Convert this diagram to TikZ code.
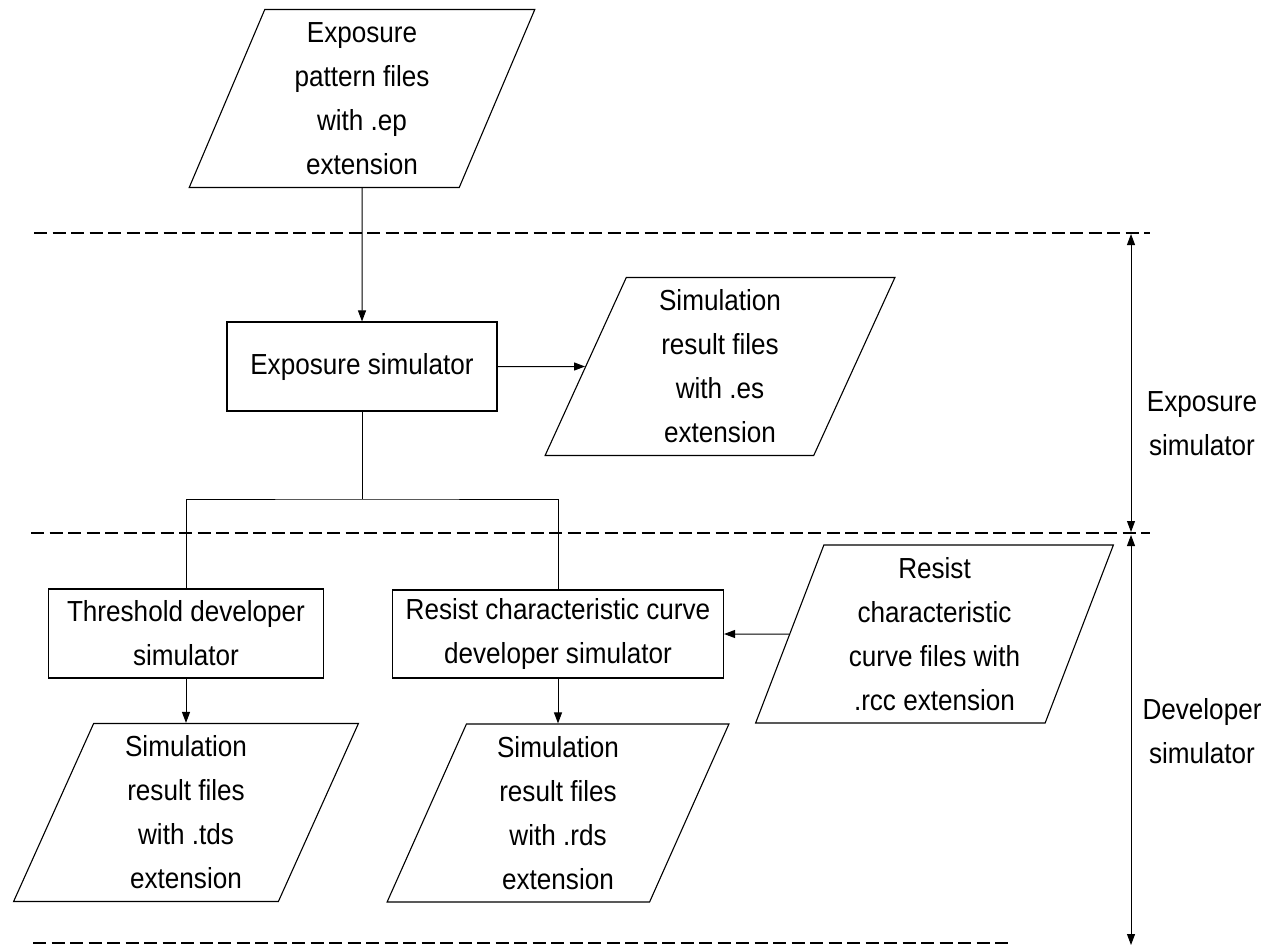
\documentclass[tikz,border=0pt]{standalone}
\usepackage{fontspec}
\setmainfont{Liberation Sans}[FakeStretch=0.9]
\usetikzlibrary{arrows.meta,shapes.geometric}
\begin{document}
\begin{tikzpicture}[x=1pt,y=-1pt,
  txt/.style={font=\fontsize{29}{44}\selectfont, align=center, inner sep=0pt},
  procbox/.style={txt, draw, rectangle, line width=1.1pt},
  filebox/.style={txt, draw, trapezium, trapezium left angle=71,
    trapezium right angle=109, trapezium stretches=true,
    minimum height=178pt, line width=1.1pt},
  link/.style={line width=1pt},
  arr/.style={link, -{Triangle[length=11pt,width=8pt]}},
  span/.style={link, {Triangle[length=11pt,width=8pt]}-{Triangle[length=11pt,width=8pt]}},
  sep/.style={line width=2pt, dash pattern=on 13pt off 5.5pt}]
\useasboundingbox (0,0) rectangle (1276,948);

% input and exposure stage
\node[filebox, minimum width=346pt] (ep) at (362,98.5)
  {Exposure\\pattern files\\with .ep\\extension};
\node[procbox, minimum width=270pt, minimum height=89pt] (expsim) at (362,366.5)
  {Exposure simulator};
\node[filebox, minimum width=350pt] (es) at (720,366.5)
  {Simulation\\result files\\with .es\\extension};

% developer stage
\node[procbox, minimum width=275pt, minimum height=89pt] (thr) at (186,633.5)
  {Threshold developer\\simulator};
\node[procbox, minimum width=331pt, minimum height=88pt] (rcd) at (558,634)
  {Resist characteristic curve\\developer simulator};
\node[filebox, minimum width=359pt] (rcc) at (934.5,634)
  {Resist\\characteristic\\curve files with\\.rcc extension};
\node[filebox, minimum width=345pt] (tds) at (186,812.5)
  {Simulation\\result files\\with .tds\\extension};
\node[filebox, minimum width=342pt] (rds) at (558,813)
  {Simulation\\result files\\with .rds\\extension};

% stage separators
\coordinate (topL) at (34,233);  \coordinate (topR) at (1150,233);
\coordinate (midL) at (31,533);  \coordinate (midR) at (1150,533);
\coordinate (botL) at (33,943);  \coordinate (botR) at (1008,943);
\draw[sep] (topL) -- (topR);
\draw[sep] (midL) -- (midR);
\draw[sep] (botL) -- (botR);

% stage extents
\coordinate (spanA) at (1131,234);
\coordinate (spanB) at (1131,532);
\coordinate (spanC) at (1131,535);
\coordinate (spanD) at (1131,945);
\draw[span] (spanA) -- (spanB);
\draw[span] (spanC) -- (spanD);
\node[txt] (explabel) at (1202,424) {Exposure\\simulator};
\node[txt] (devlabel) at (1202,731) {Developer\\simulator};

% data flow
\coordinate (split) at (362,499);
\draw[arr] (ep) -- (expsim);
\draw[arr] (expsim) -- (es);
\draw[link] (expsim.south) -- (split);
\draw[link] (thr.north) |- (split) -| (rcd.north);
\draw[arr] (thr) -- (tds);
\draw[arr] (rcd) -- (rds);
\draw[arr] (rcc) -- (rcd);
\end{tikzpicture}
\end{document}
